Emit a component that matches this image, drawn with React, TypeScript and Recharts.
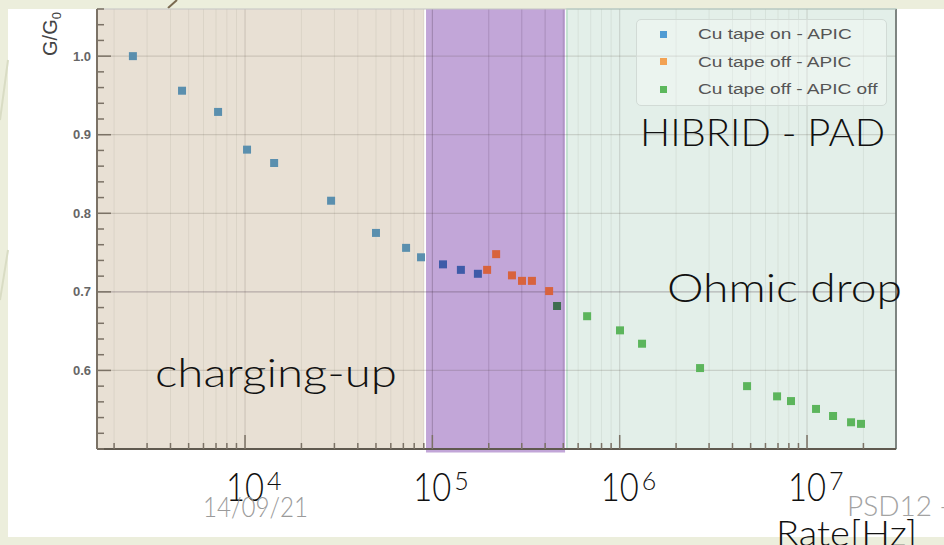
import {
  Cell,
  Legend,
  ReferenceArea,
  ReferenceLine,
  Scatter,
  ScatterChart,
  XAxis,
  YAxis,
  ZAxis,
} from 'recharts';

// G/G0 against rate
const tapeOnRate = [2520, 4610, 7180, 10250, 14300, 28800, 50000, 72400, 87000, 114000, 142000, 175000];
const tapeOnGain = [1.0, 0.956, 0.929, 0.881, 0.864, 0.816, 0.775, 0.756, 0.744, 0.735, 0.728, 0.723];

const tapeOffRate = [196000, 219000, 266000, 301000, 340000, 420000];
const tapeOffGain = [0.728, 0.748, 0.721, 0.714, 0.714, 0.701];

const apicOffRate = [463000, 670000, 1004000, 1316000, 2685000, 4785000, 6920000, 8210000, 11170000, 13770000, 17180000, 19420000];
const apicOffGain = [0.682, 0.669, 0.651, 0.634, 0.603, 0.58, 0.567, 0.561, 0.551, 0.542, 0.534, 0.532];

const xTicks = [
  2000, 3000, 4000, 5000, 6000, 7000, 8000, 9000,
  10000, 20000, 30000, 40000, 50000, 60000, 70000, 80000, 90000,
  100000, 200000, 300000, 400000, 500000, 600000, 700000, 800000, 900000,
  1000000, 2000000, 3000000, 4000000, 5000000, 6000000, 7000000, 8000000, 9000000,
  10000000, 20000000,
];
const yTicks = [
  0.5, 0.52, 0.54, 0.56, 0.58, 0.6, 0.62, 0.64, 0.66, 0.68, 0.7, 0.72, 0.74, 0.76, 0.78,
  0.8, 0.82, 0.84, 0.86, 0.88, 0.9, 0.92, 0.94, 0.96, 0.98, 1.0, 1.02, 1.04, 1.06,
];
const yLabelled = [0.6, 0.7, 0.8, 0.9, 1.0];

const X_DOMAIN = [1621, 29850000];
const Y_DOMAIN = [0.5, 1.06];

// shaded regimes drawn over the plot on the slide
const chargingBand = [1621, 90400];
const hybridBand = [92500, 511000];
const ohmicBand = [523000, 29850000];

const SERIES = [
  { name: 'Cu tape on - APIC', rate: tapeOnRate, gain: tapeOnGain, color: '#4f9bd3', left: '#5a8fae', mid: '#3e5ba8', right: '#5a8fae' },
  { name: 'Cu tape off - APIC', rate: tapeOffRate, gain: tapeOffGain, color: '#f2a253', left: '#d8633d', mid: '#d8633d', right: '#d8633d' },
  { name: 'Cu tape off - APIC off', rate: apicOffRate, gain: apicOffGain, color: '#5cb85c', left: '#5cb55c', mid: '#3f6d4f', right: '#5cb55c' },
];

const AXIS_COLOR = '#7b7266';
const FONT = "Lato, 'Open Sans', sans-serif";

const isDecade = (v: number) => {
  const l = Math.log10(v);
  return Math.abs(l - Math.round(l)) < 1e-9;
};

const pointFill = (rate: number, s: (typeof SERIES)[number]) => {
  if (rate >= hybridBand[0] && rate <= hybridBand[1]) return s.mid;
  return rate < hybridBand[0] ? s.left : s.right;
};

function XTick({ x, y, payload }: any) {
  const v = payload.value as number;
  const major = isDecade(v);
  return (
    <g>
      <line x1={x} x2={x} y1={y} y2={y - (major ? 14 : 6)} stroke={AXIS_COLOR} strokeWidth={1.5} />
      {major && (
        <>
          <text
            x={x}
            y={y + 52}
            textAnchor="middle"
            fontFamily={FONT}
            fontWeight={300}
            fontSize={40}
            fill="#111"
            textLength={38}
            lengthAdjust="spacingAndGlyphs"
          >
            10
          </text>
          <text x={x + 22} y={y + 41} textAnchor="start" fontFamily={FONT} fontWeight={300} fontSize={25} fill="#111">
            {Math.round(Math.log10(v))}
          </text>
        </>
      )}
    </g>
  );
}

function YTick({ x, y, payload }: any) {
  const v = payload.value as number;
  const major = yLabelled.some((m) => Math.abs(m - v) < 1e-6);
  return (
    <g>
      <line x1={x} x2={x + (major ? 14 : 7)} y1={y} y2={y} stroke={AXIS_COLOR} strokeWidth={1.5} />
      {major && (
        <text
          x={x - 6}
          y={y}
          dy="0.35em"
          textAnchor="end"
          fontFamily="'Liberation Sans', Arial, sans-serif"
          fontWeight="bold"
          fontSize={13}
          fill="#666"
        >
          {v.toFixed(1)}
        </text>
      )}
    </g>
  );
}

function SlideLegend({ payload }: any) {
  // keep the series order, recharts sorts legend items by name
  const items = [...(payload ?? [])].sort(
    (a: any, b: any) =>
      SERIES.findIndex((s) => s.name === a.value) - SERIES.findIndex((s) => s.name === b.value),
  );
  return (
    <div
      style={{
        position: 'relative',
        width: 251,
        height: 87,
        boxSizing: 'border-box',
        border: '1px solid #d2dbd6',
        borderRadius: 5,
        background: 'rgba(255,255,255,0.3)',
      }}
    >
      {items.map((entry: any, i: number) => (
        <div key={entry.value} style={{ position: 'absolute', left: 0, top: 14 + i * 27.5 - 10, height: 20, width: '100%' }}>
          <div
            style={{
              position: 'absolute',
              left: 23,
              top: 6.5,
              width: 7,
              height: 7,
              backgroundColor: entry.color,
            }}
          />
          <span
            style={{
              position: 'absolute',
              left: 61,
              top: 0,
              lineHeight: '20px',
              whiteSpace: 'nowrap',
              fontFamily: "'Liberation Sans', Arial, sans-serif",
              fontSize: 15.5,
              color: '#555',
              transform: 'scaleX(1.23)',
              transformOrigin: 'left center',
            }}
          >
            {entry.value}
          </span>
        </div>
      ))}
    </div>
  );
}

export default function App() {
  return (
    <div style={{ position: 'relative', width: 944, height: 545, overflow: 'hidden', background: '#eceedc' }}>
      <style>{'body{margin:0}'}</style>
      <svg width={944} height={545} style={{ position: 'absolute', left: 0, top: 0 }}>
        <rect x={8} y={9} width={936} height={528} fill="#ffffff" />
        <line x1={168} y1={8} x2={177} y2={0} stroke="#7a6a50" strokeWidth={2} />
        <line x1={0} y1={120} x2={8} y2={60} stroke="#d9dcc4" strokeWidth={2} />
        <line x1={0} y1={300} x2={8} y2={250} stroke="#d9dcc4" strokeWidth={2} />
      </svg>

      <div style={{ position: 'absolute', left: 0, top: 0 }}>
        <ScatterChart width={944} height={545} margin={{ top: 9, right: 48, bottom: 0, left: 0 }}>
          <XAxis
            dataKey="rate"
            type="number"
            scale="log"
            domain={X_DOMAIN}
            allowDataOverflow
            ticks={xTicks}
            interval={0}
            height={96}
            tickSize={0}
            tickMargin={0}
            tickLine={false}
            axisLine={{ stroke: '#5f594f', strokeWidth: 2 }}
            tick={<XTick />}
            label={(p: any) => {
              const vb = p?.viewBox ?? { x: 97, y: 449, width: 799, height: 96 };
              return (
                <text
                  x={vb.x + vb.width - 120}
                  y={vb.y + 97}
                  fontFamily={FONT}
                  fontWeight={300}
                  fontSize={36}
                  fill="#111"
                  textLength={141}
                  lengthAdjust="spacingAndGlyphs"
                >
                  Rate[Hz]
                </text>
              );
            }}
          />
          <YAxis
            dataKey="gain"
            type="number"
            domain={Y_DOMAIN}
            allowDataOverflow
            ticks={yTicks}
            interval={0}
            width={97}
            tickSize={0}
            tickMargin={0}
            tickLine={false}
            axisLine={{ stroke: AXIS_COLOR, strokeWidth: 2 }}
            tick={<YTick />}
            label={(p: any) => {
              const vb = p?.viewBox ?? { x: 0, y: 9, width: 97, height: 440 };
              const cx = vb.x + 57;
              const cy = vb.y + 25;
              return (
                <text
                  x={cx}
                  y={cy}
                  transform={`rotate(-90 ${cx} ${cy})`}
                  textAnchor="middle"
                  fontFamily="'Liberation Sans', Arial, sans-serif"
                  fontSize={20}
                  fill="#444"
                >
                  G/G
                  <tspan fontSize={13} dy={4}>
                    0
                  </tspan>
                </text>
              );
            }}
          />
          <ZAxis type="number" range={[60, 60]} />

          <ReferenceArea
            x1={chargingBand[0]}
            x2={chargingBand[1]}
            y1={Y_DOMAIN[0]}
            y2={Y_DOMAIN[1]}
            fill="#e8e0d4"
            fillOpacity={1}
            stroke="none"
          />
          <ReferenceArea
            x1={ohmicBand[0]}
            x2={ohmicBand[1]}
            y1={Y_DOMAIN[0]}
            y2={Y_DOMAIN[1]}
            fill="#e3efe9"
            fillOpacity={1}
            stroke="#b6dbc7"
            strokeWidth={1.5}
          />

          {xTicks.map((v) => (
            <ReferenceLine
              key={`vx-${v}`}
              x={v}
              stroke={isDecade(v) ? 'rgba(60,50,40,0.17)' : 'rgba(60,50,40,0.07)'}
              strokeWidth={1}
            />
          ))}
          {yLabelled.map((v) => (
            <ReferenceLine key={`hy-${v}`} y={v} stroke="rgba(60,50,40,0.16)" strokeWidth={1.2} />
          ))}

          <ReferenceArea
            x1={hybridBand[0]}
            x2={hybridBand[1]}
            y1={0.4955}
            y2={Y_DOMAIN[1]}
            ifOverflow="visible"
            fill="#c2a6d8"
            fillOpacity={1}
            stroke="none"
          />
          {xTicks
            .filter((v) => v > hybridBand[0] && v < hybridBand[1])
            .map((v) => (
              <ReferenceLine key={`vp-${v}`} x={v} stroke="rgba(70,40,90,0.12)" strokeWidth={1} />
            ))}
          <ReferenceLine y={0.7} stroke="rgba(70,40,90,0.15)" strokeWidth={1.2} />

          <ReferenceLine x={X_DOMAIN[1]} ifOverflow="visible" stroke="#666" strokeWidth={1.5} />
          <ReferenceLine y={Y_DOMAIN[1]} ifOverflow="visible" stroke="#c4c4c4" strokeWidth={1} />

          {SERIES.map((s) => (
            <Scatter
              key={s.name}
              name={s.name}
              data={s.rate.map((r, i) => ({ rate: r, gain: s.gain[i] }))}
              fill={s.color}
              shape="square"
              isAnimationActive={false}
            >
              {s.rate.map((r, i) => (
                <Cell key={`${s.name}-${i}`} fill={pointFill(r, s)} />
              ))}
            </Scatter>
          ))}

          <Legend
            layout="horizontal"
            align="center"
            verticalAlign="middle"
            wrapperStyle={{ left: 636, top: 19, width: 251, height: 87 }}
            content={(props: any) => <SlideLegend payload={props.payload} />}
          />
        </ScatterChart>
      </div>

      <svg width={944} height={545} style={{ position: 'absolute', left: 0, top: 0, pointerEvents: 'none' }}>
        <text x={640} y={146} fontFamily={FONT} fontWeight={300} fontSize={38} fill="#111" textLength={245} lengthAdjust="spacingAndGlyphs">
          HIBRID - PAD
        </text>
        <text x={667} y={302} fontFamily={FONT} fontWeight={300} fontSize={40} fill="#111" textLength={235} lengthAdjust="spacingAndGlyphs">
          Ohmic drop
        </text>
        <text x={155} y={387} fontFamily={FONT} fontWeight={300} fontSize={40} fill="#111" textLength={242} lengthAdjust="spacingAndGlyphs">
          charging-up
        </text>
        <text x={203} y={517} fontFamily={FONT} fontWeight={300} fontSize={27} fill="#9a9a9a" textLength={105} lengthAdjust="spacingAndGlyphs">
          14/09/21
        </text>
        <text x={847} y={516} fontFamily={FONT} fontWeight={300} fontSize={28} fill="#a3a3a3">
          PSD12 -
        </text>
      </svg>
    </div>
  );
}
